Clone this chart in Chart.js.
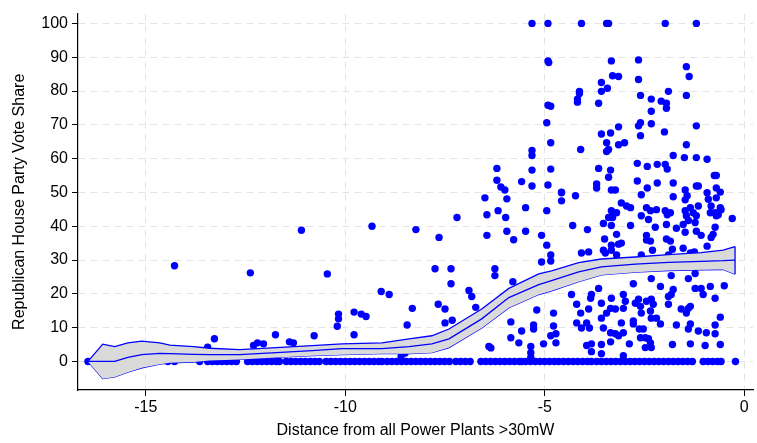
<!DOCTYPE html>
<html>
<head>
<meta charset="utf-8">
<script src="https://cdn.jsdelivr.net/npm/chart.js@4.4.1/dist/chart.umd.min.js"></script>
<style>
html,body{margin:0;padding:0;background:#fff;}
canvas{display:block;}
</style>
</head>
<body>
<canvas id="c" width="757" height="443"></canvas>
<script>
// ---- Data ----
const xTicks = [-15, -10, -5, 0];
const yTicks = [0, 10, 20, 30, 40, 50, 60, 70, 80, 90, 100];

// observations with zero vote share (x positions)
const zeroRowX = [-16.45, -14.45, -14.28, -13.65,
  -13.45,-13.33,-13.21,-13.09,-12.97,-12.85,-12.73,
  -12.45,-12.33,-12.21,-12.09,-11.97,-11.85,-11.73,-11.65,
  -11.48,-11.36,-11.24,-11.12,-11.0,-10.88,-10.76,-10.65,
  -10.48,-10.36,-10.24,-10.12,-10.0,-9.88,-9.76,-9.64,-9.52,-9.4,-9.28,-9.16,-9.08,
  -8.95,-8.83,-8.71,-8.59,-8.47,-8.35,-8.23,-8.11,-7.99,-7.87,-7.75,-7.63,-7.51,-7.39,
  -7.23,-7.11,-6.99,-6.87,
  -6.6,-6.48,-6.36,-6.24,-6.12,-6.0,-5.88,-5.76,-5.64,-5.58,
  -5.48,-5.36,-5.24,-5.12,-5.0,-4.88,-4.76,-4.65,
  -4.53,-4.41,-4.29,-4.17,-4.05,-3.93,-3.83,
  -3.7,-3.58,-3.46,-3.34,-3.22,-3.1,-2.98,-2.86,-2.74,-2.62,-2.5,-2.38,-2.26,-2.14,-2.02,-1.9,-1.78,-1.66,-1.54,-1.42,-1.3,
  -1.03,-0.91,-0.79,-0.67,-0.58,
  -0.22];

// observations with positive vote share [distance, share]
const obsPoints = [
  [-14.28,28.3],[-13.28,6.7],[-13.45,4.2],[-12.3,4.7],[-12.2,5.5],[-12.05,5.2],[-12.38,26.2],[-11.75,7.9],[-11.4,5.8],[-11.3,5.5],
  [-11.1,38.8],[-10.78,7.6],[-10.45,25.9],[-10.17,14],[-10.17,12.6],[-10.2,10.4],[-9.78,14.6],[-9.78,7.9],[-9.6,14],[-9.48,13.3],
  [-9.33,40],[-9.1,20.7],[-8.9,19.8],[-8.45,10.8],[-8.6,1.5],[-8.5,2.5],
  [-8.32,15.7],[-8.23,39],[-7.75,27.4],[-7.65,36.7],[-7.67,16.9],[-7.5,15.5],[-7.5,11.4],[-7.35,27.4],[-7.35,23],[-7.32,12.2],
  [-7.2,42.6],[-6.9,21],[-6.83,19.2],[-6.73,16],[-6.5,48.4],[-6.45,43.4],[-6.45,37.3],[-6.4,4.4],[-6.35,4],[-6.25,27.4],[-6.25,25.4],
  [-6.17,44.6],[-6.2,53.6],[-6.1,51.6],[-6.0,50.7],[-5.98,42.6],[-5.95,48.1],[-5.95,38.5],[-5.78,36],[-5.8,23.6],[-5.85,11.7],[-5.85,7],
  [-5.65,5.5],[-5.58,9],[-5.58,53.2],[-5.32,51.9],[-5.48,45.5],[-5.48,38.5],[-5.35,4.4],[-5.35,2.6],[-5.35,1.2],[-5.28,10.8],[-5.28,9.6],
  [-5.2,15.2],[-5.08,37.3],[-5.08,29.4],[-5.03,5.2],[-4.95,34.4],[-4.95,44.6],[-4.85,31.5],[-4.85,29.7],[-4.85,7.6],[-4.72,8.2],
  [-4.78,14.3],[-4.78,10.5],[-4.72,5.5],[-4.58,49.9],[-4.58,47.5],[-4.3,40.2],[-4.23,49],
  [-5.32,100],[-4.92,100],[-4.92,88.9],[-4.9,88.4],[-4.92,75.8],[-4.85,75.5],[-4.95,70.6],[-4.85,64.7],[-5.32,62.4],[-5.32,60.9],
  [-6.2,57.1],[-5.32,56.6],[-4.85,56.9],[-4.92,52.2],[-4.58,50.1],
  [-4.08,100],[-3.45,100],[-3.4,100],[-1.98,100],[-1.2,100],[-3.33,88.9],[-2.65,89.2],[-1.45,87.2],[-3.3,84.5],[-3.15,84.3],
  [-2.65,83.4],[-1.38,84.3],[-3.58,82.5],[-4.13,79.9],[-4.13,79.3],[-3.58,79.9],[-3.43,80.8],[-4.18,77.6],[-4.18,76.7],[-3.65,76.4],
  [-2.6,78.7],[-2.33,77.6],[-2.08,77],[-1.95,76.4],[-1.95,74.9],[-1.9,79.9],[-1.45,78.7],[-2.33,74],[-2.65,69.7],[-2.6,70.6],
  [-2.33,70.3],[-1.2,69.7],[-3.58,67.3],[-3.35,67.6],[-3.15,69.4],[-2.0,67.9],[-2.6,66.8],[-3.45,64.7],[-3.15,64.1],[-3.0,64.7],
  [-4.1,62.7],[-3.45,62.1],[-3.4,62.7],[-1.45,64.1],[-1.78,60.9],[-1.5,60.3],[-1.2,60.3],[-0.93,59.8],[-3.65,57.1],[-3.35,56.6],
  [-3.4,54.5],[-2.68,58.6],[-2.43,57.7],[-2.18,58.3],[-1.98,58.3],[-1.93,56.9],[-0.75,55],[-0.7,55],[-3.7,52.5],[-3.7,51.3],
  [-3.33,50.7],[-3.23,50.7],[-2.68,53.4],[-2.43,51.3],[-2.18,52.8],[-1.78,52.8],[-1.48,50.7],[-1.2,51.9],[-1.15,51.9],[-0.93,49.9],
  [-0.7,51.3],[-0.6,50.1],
  [-1.78,48.7],[-1.48,47.8],[-1.43,49],[-0.9,48],[-0.7,48.4],[-0.6,45.5],[-2.58,49.3],
  [-3.08,46.9],[-2.95,46],[-2.85,45.5],[-3.33,44.6],[-3.2,44],[-3.4,42.6],[-3.3,42.6],[-3.53,40.8],[-3.33,40.2],[-2.45,45.5],
  [-2.35,44.6],[-2.2,44.9],[-2.58,43.1],[-2.4,42],[-1.98,44.6],[-1.93,43.4],[-1.85,44],[-1.48,44.6],[-1.45,43.1],[-1.35,45.5],
  [-1.28,44],[-1.15,46],[-1.2,43.1],[-0.83,46],[-0.73,44],[-0.65,43.4],[-0.58,44.9],[-0.85,44],[-0.7,43.1],[-0.3,42.3],
  [-3.93,39],[-2.85,40.2],[-2.23,39.7],[-1.95,40.5],[-1.7,39.4],[-1.53,40.5],[-1.4,41.7],[-1.23,41.1],[-1.48,38.2],[-1.2,38.5],
  [-1.08,37.3],[-0.73,39.7],[-0.78,37.6],[-0.83,36.7],[-3.2,37.6],[-3.5,36.2],[-3.33,34.4],[-3.15,34.7],[-3.08,35],[-2.45,37.3],
  [-2.45,35.9],[-2.35,35.6],[-1.95,36.2],[-1.85,35.6],[-0.93,34.1],[-3.53,32.9],[-3.48,32.1],[-3.33,32.9],[-3.2,31.5],[-4.08,32.1],
  [-3.9,32.4],[-2.58,31.5],[-2.3,32.9],[-1.9,31.5],[-1.8,33.2],[-1.53,33.5],[-1.35,32.1],[-1.25,32.4],
  [-2.33,24.5],[-1.83,25.4],[-1.4,24.5],[-1.23,26],[-2.78,23],
  [-4.33,19.8],[-4.2,16.9],[-4.1,14.3],[-3.83,19.8],[-3.9,15.5],[-3.65,21.6],[-3.85,18.7],
  [-3.58,17.2],[-3.33,18.7],[-3.35,15.7],[-3.45,14.3],[-3.58,12.8],[-3.23,15.5],[-3.03,19.8],[-2.98,17.8],[-3.03,15.7],
  [-2.73,17.2],[-2.65,18.4],[-2.6,16.3],[-2.58,14.3],[-2.45,17.8],[-2.33,18.4],[-2.28,16.9],[-2.35,14.9],[-2.33,12.8],[-2.2,12.8],[-2.1,11.1],
  [-1.9,19.2],[-1.9,16.9],[-1.83,19.8],[-1.78,21.3],[-2.1,22.2],[-1.58,15.5],[-1.4,15.7],[-1.35,16.3],[-1.45,14.3],
  [-1.23,21.6],[-1.08,21.6],[-1.03,19.8],[-0.85,22.2],[-0.73,18.7],[-0.5,22.4],
  [-0.6,13.1],[-0.73,10.8],[-0.95,8.5],[-0.73,8.2],[-1.15,9],[-1.35,11.1],[-1.4,9.6],[-1.7,10.8],
  [-4.2,11.4],[-4.08,9.9],[-3.95,11.4],[-3.88,9.9],[-3.53,9.9],[-3.35,8.5],[-3.23,8.2],[-3.15,7.6],[-3.08,11.4],[-3.03,8.5],[-2.78,12],[-2.78,11.1],
  [-2.63,9.6],[-2.53,9.6],[-2.6,7],[-2.48,7],[-2.4,6.7],[-2.48,4.1],[-2.33,4.1],[-2.35,5.5],
  [-3.95,4.7],[-3.83,5.2],[-3.83,2.9],[-3.58,5],[-3.58,2.3],[-3.35,5.8],[-3.03,1.7],[-2.88,5.2],[-1.8,5],[-1.35,5.2],[-0.98,4.7],[-0.6,5]
];

// fitted line with confidence band
const fitX     = [-16.45,-16.08,-15.78,-15.45,-15.1,-14.65,-14.4,-13.8,-13.4,-12.65,-11.73,-10.83,-10.08,-9.08,-8.4,-7.83,-7.4,-6.58,-5.9,-5.15,-4.83,-4.15,-3.58,-2.73,-1.9,-1.08,-0.53,-0.23];
const fitMid   = [0,0,0,1.2,2.0,2.4,2.3,2.1,2.0,2.0,2.6,3.2,3.8,3.8,4.4,5.2,6.7,12.6,18.9,22.7,23.9,26.5,28.0,28.8,29.3,29.6,29.8,30.0];
const fitUpper = [0,5.1,4.4,5.5,6.0,5.5,4.8,4.4,3.9,3.5,4.1,4.7,5.2,5.5,6.7,7.6,9.6,15.5,21.6,25.9,26.8,29.2,30.3,30.9,31.6,32.2,32.9,34.0];
const fitLower = [0,-5.1,-4.6,-3.2,-1.9,-0.8,-0.4,-0.2,0.3,0.6,1.2,1.7,2.0,2.3,2.3,2.6,4.1,9.9,15.9,19.8,20.9,23.6,25.6,26.4,26.9,27.1,27.2,25.8];

// ---- Build ----
const BLUE = '#0000ff';
const FONT = 'Liberation Sans, Arial, Helvetica, sans-serif';
const toXY = (xs, ys) => xs.map((x, i) => ({x: x, y: ys[i]}));
const last = fitX.length - 1;

const ticksFrom = arr => scale => { scale.ticks = arr.map(v => ({value: v})); };

new Chart(document.getElementById('c'), {
  type: 'scatter',
  data: {
    datasets: [
      { type: 'line', data: toXY(fitX, fitUpper), borderColor: BLUE, borderWidth: 1.3,
        backgroundColor: 'rgb(218,218,218)', fill: '+1', pointRadius: 0, tension: 0, order: 1 },
      { type: 'line', data: toXY(fitX, fitLower), borderColor: BLUE, borderWidth: 1.3,
        fill: false, pointRadius: 0, tension: 0, order: 1 },
      { type: 'line', data: toXY(fitX, fitMid), borderColor: BLUE, borderWidth: 1.3,
        fill: false, pointRadius: 0, tension: 0, order: 0 },
      { type: 'line', data: [{x: fitX[last], y: fitUpper[last]}, {x: fitX[last], y: fitLower[last]}],
        borderColor: BLUE, borderWidth: 1.3, fill: false, pointRadius: 0, order: 0 },
      { data: obsPoints.map(p => ({x: p[0], y: p[1]})), backgroundColor: BLUE, borderWidth: 0,
        pointRadius: 3.7, order: 5 },
      { data: zeroRowX.map(x => ({x: x, y: 0})), backgroundColor: BLUE, borderWidth: 0,
        pointRadius: 3.7, order: 5 }
    ]
  },
  options: {
    responsive: false,
    animation: false,
    events: [],
    layout: { padding: { left: 0, top: 8, right: 2, bottom: 0 } },
    plugins: { legend: { display: false }, tooltip: { enabled: false } },
    scales: {
      x: {
        type: 'linear', min: -16.7, max: 0.22,
        afterBuildTicks: ticksFrom(xTicks),
        afterFit: s => { s.height = 53; },
        grid: { color: '#e4e4e4', lineWidth: 1, tickColor: '#000', tickLength: 6, tickWidth: 1, tickBorderDash: [] },
        border: { display: true, color: '#000', width: 1.2, dash: [7, 5] },
        ticks: { color: '#000', font: { family: FONT, size: 16 }, padding: 2, maxRotation: 0 },
        title: { display: true, text: 'Distance from all Power Plants >30mW', color: '#000',
          font: { family: FONT, size: 16 }, padding: { top: 0, bottom: 3 } }
      },
      y: {
        type: 'linear', min: -8.45, max: 102.9,
        afterBuildTicks: ticksFrom(yTicks),
        afterFit: s => { s.width = 78; },
        grid: { color: '#e4e4e4', lineWidth: 1, tickColor: '#000', tickLength: 6, tickWidth: 1, tickBorderDash: [] },
        border: { display: true, color: '#000', width: 1.2, dash: [7, 5] },
        ticks: { color: '#000', font: { family: FONT, size: 16 }, padding: 4 },
        title: { display: true, text: 'Republican House Party Vote Share', color: '#000',
          font: { family: FONT, size: 16 }, padding: { top: 10, bottom: 0 } }
      }
    }
  }
});
</script>
</body>
</html>
